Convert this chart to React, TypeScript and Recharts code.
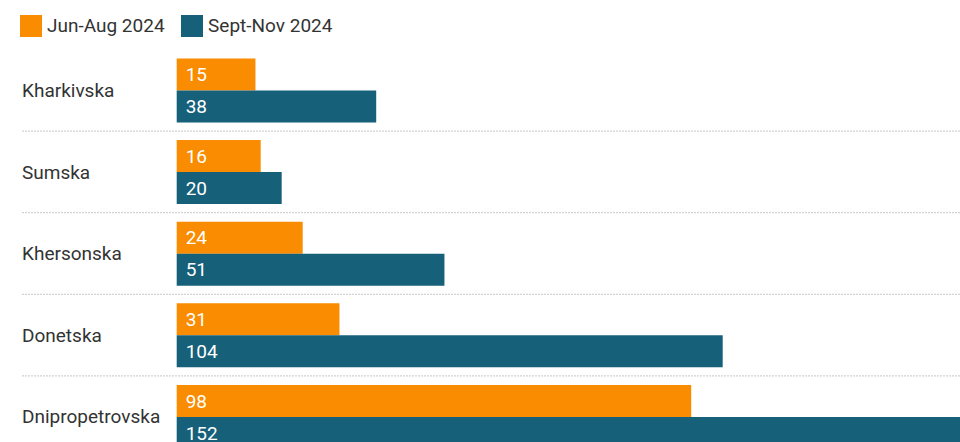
import React from "react";
import { BarChart, Bar, XAxis, YAxis, CartesianGrid, Legend, LabelList } from "recharts";

const regions = ["Kharkivska", "Sumska", "Khersonska", "Donetska", "Dnipropetrovska"];
const junAug = [15, 16, 24, 31, 98];
const septNov = [38, 20, 51, 104, 152];

const seriesNames = ["Jun-Aug 2024", "Sept-Nov 2024"];
const seriesColors = ["#F98C00", "#17607A"];

const data = regions.map((r, i) => ({ region: r, a: junAug[i], b: septNov[i] }));

const FONT = "Roboto, 'Noto Sans', sans-serif";
const TEXT = "#333333";
const FS = 19;

const CategoryTick = (props: any) => {
  const { y, payload } = props;
  return (
    <text x={22} y={y} dy="0.355em" textAnchor="start" fill={TEXT} fontSize={FS} fontFamily={FONT}>
      {payload.value}
    </text>
  );
};

const LegendContent = () => (
  <div style={{ height: 49.5, display: "flex", alignItems: "flex-start", paddingLeft: 20, paddingTop: 15, boxSizing: "border-box", fontFamily: FONT, fontSize: FS, color: TEXT }}>
    {seriesNames.map((n, i) => (
      <div key={n} style={{ display: "flex", alignItems: "center", marginRight: 16.5, height: 22 }}>
        <div style={{ width: 22, height: 22, background: seriesColors[i], marginRight: 5 }} />
        <span style={{ lineHeight: "22px" }}>{n}</span>
      </div>
    ))}
  </div>
);

export default function App() {
  return (
    <div style={{ position: "fixed", left: 0, top: 0, width: 960, height: 442, overflow: "hidden", background: "#fff" }}>
      <BarChart
        width={1000}
        height={470}
        data={data}
        layout="vertical"
        margin={{ top: 0, right: 25.3, bottom: 12.5, left: 0 }}
        barCategoryGap={9}
        barGap={0}
      >
        <CartesianGrid
          vertical={false}
          x={22}
          width={1000}
          stroke="#c8c8c8"
          strokeDasharray="2 1"
          horizontalCoordinatesGenerator={({ offset }: any) =>
            regions.map((_, i) => offset.top + ((i + 1) * offset.height) / regions.length)
          }
        />
        <XAxis type="number" domain={[0, 152]} hide />
        <YAxis
          type="category"
          dataKey="region"
          width={176.7}
          axisLine={false}
          tickLine={false}
          tick={<CategoryTick />}
          interval={0}
        />
        <Legend verticalAlign="top" align="left" content={<LegendContent />} wrapperStyle={{ left: 0, top: 0 }} />
        <Bar dataKey="a" name={seriesNames[0]} fill={seriesColors[0]} isAnimationActive={false}>
          <LabelList dataKey="a" position="insideLeft" offset={9} fill="#fff" fontSize={FS} fontFamily={FONT} />
        </Bar>
        <Bar dataKey="b" name={seriesNames[1]} fill={seriesColors[1]} isAnimationActive={false}>
          <LabelList dataKey="b" position="insideLeft" offset={9} fill="#fff" fontSize={FS} fontFamily={FONT} />
        </Bar>
      </BarChart>
    </div>
  );
}
